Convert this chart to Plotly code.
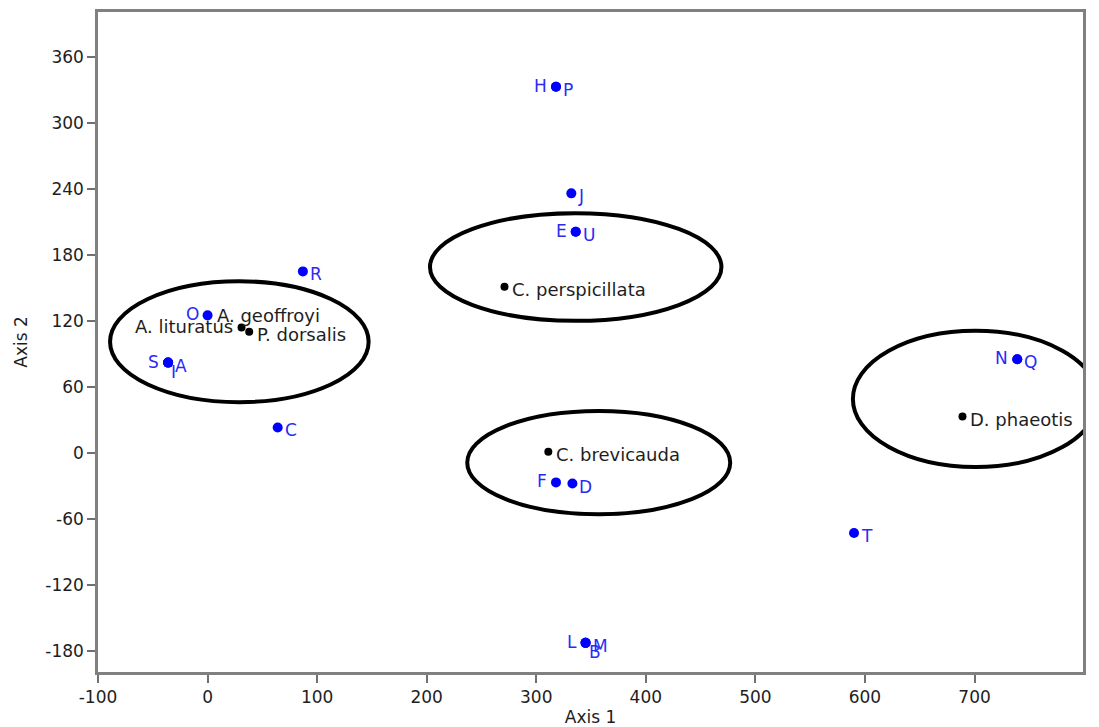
import plotly.graph_objects as go

# Blue samples (letters)
sample_names = ["H", "P", "J", "E", "U", "R", "O", "S", "A", "I", "C", "F", "D", "T", "L", "M", "B", "N", "Q"]
sample_x = [318, 318, 332, 336, 336, 87, 0, -36, -36, -36, 64, 318, 333, 590, 345, 345, 345, 739, 739]
sample_y = [333, 333, 236, 201, 201, 165, 125, 82, 82, 82, 23, -27, -28, -73, -173, -173, -173, 85, 85]
# label side: L = left of point, R = right/below, B = just below
sample_side = ["L", "R", "R", "L", "R", "R", "L", "L", "R", "B", "R", "L", "R", "R", "L", "R", "B", "L", "R"]

# Black species centroids
species_names = ["A. geoffroyi", "A. lituratus", "P. dorsalis", "C. perspicillata", "C. brevicauda", "D. phaeotis"]
species_x = [0, 31, 38, 271, 311, 689]
species_y = [125, 114, 110, 151, 1, 33]
# label side: L = left, R = right (level), RB = right and slightly below
species_side = ["R", "L", "RB", "RB", "RB", "RB"]

# Ellipses (center x, center y, semi-axis x, semi-axis y)
ell_cx = [29, 336, 357, 701]
ell_cy = [101, 169, -9, 49]
ell_rx = [118, 133, 120, 112]
ell_ry = [55, 49, 47, 62]

x_ticks = [-100, 0, 100, 200, 300, 400, 500, 600, 700]
x_tick_text = ["-100", "0", "100", "200", "300", "400", "500", "600", "700"]
y_ticks = [-180, -120, -60, 0, 60, 120, 180, 240, 300, 360]
y_tick_text = ["-180", "-120", "-60", "0", "60", "120", "180", "240", "300", "360"]

BLUE = "#0000FF"
BLUE_TXT = "#2a2af5"
DARK = "#1e1e1e"
FONT = "DejaVu Sans"
FS = 17
FS_SP = 18

fig = go.Figure()

shapes = []
for cx, cy, rx, ry in zip(ell_cx, ell_cy, ell_rx, ell_ry):
    shapes.append(dict(type="circle", xref="x", yref="y",
                       x0=cx - rx, x1=cx + rx, y0=cy - ry, y1=cy + ry,
                       line=dict(color="black", width=4), layer="above"))

fig.add_trace(go.Scatter(x=species_x, y=species_y, mode="markers",
                         marker=dict(color="black", size=8), hoverinfo="skip",
                         showlegend=False, cliponaxis=False))
fig.add_trace(go.Scatter(x=sample_x, y=sample_y, mode="markers",
                         marker=dict(color=BLUE, size=10), hoverinfo="skip",
                         showlegend=False, cliponaxis=False))

annotations = []
for n, x, y, s in zip(sample_names, sample_x, sample_y, sample_side):
    if s == "L":
        shift = dict(xanchor="right", xshift=-7, yshift=1)
    elif s == "R":
        shift = dict(xanchor="left", xshift=5, yshift=-3)
    else:
        shift = dict(xanchor="left", xshift=1, yshift=-9)
    annotations.append(dict(x=x, y=y, text=n, showarrow=False, yanchor="middle",
                            font=dict(family=FONT, size=FS, color=BLUE_TXT), **shift))

for n, x, y, s in zip(species_names, species_x, species_y, species_side):
    if s == "L":
        shift = dict(xanchor="right", xshift=-7, yshift=1)
    elif s == "R":
        shift = dict(xanchor="left", xshift=7, yshift=0)
    else:
        shift = dict(xanchor="left", xshift=6, yshift=-3)
    annotations.append(dict(x=x, y=y, text=n, showarrow=False, yanchor="middle",
                            font=dict(family=FONT, size=FS_SP, color=DARK), **shift))

axis_common = dict(showgrid=False, zeroline=False, showline=True, linecolor="#808080",
                   linewidth=2.5, mirror=True, ticks="outside", ticklen=8, tickwidth=2,
                   tickcolor="#707070", tickfont=dict(family=FONT, size=FS, color=DARK))

fig.update_layout(
    width=1091, height=719,
    margin=dict(l=90, r=16, t=4, b=55, autoexpand=False),
    paper_bgcolor="white", plot_bgcolor="white",
    shapes=shapes, annotations=annotations,
    xaxis=dict(range=[-100, 799], tickvals=x_ticks, ticktext=x_tick_text,
               title=dict(text="Axis 1", font=dict(family=FONT, size=FS, color=DARK), standoff=8),
               **axis_common),
    yaxis=dict(range=[-199.5, 401], tickvals=y_ticks, ticktext=y_tick_text,
               title=dict(text="Axis 2", font=dict(family=FONT, size=FS, color=DARK), standoff=14),
               **axis_common),
)

fig.write_html("out.html")
